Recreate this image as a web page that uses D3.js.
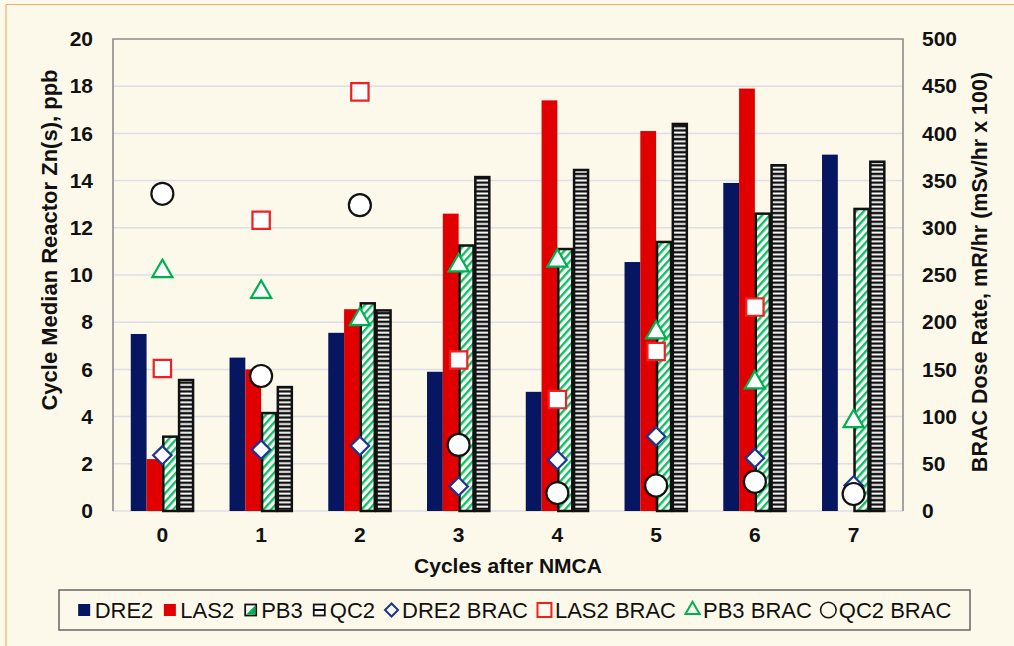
<!DOCTYPE html>
<html>
<head>
<meta charset="utf-8">
<script src="https://cdn.jsdelivr.net/npm/d3@7"></script>
<style>
  body { margin: 0; background: #fdf9ea; }
  svg { display: block; font-family: 'Liberation Sans', Arial, sans-serif; }
</style>
</head>
<body>
<div id="chart"></div>
<script>
// values
const cycles = ['0', '1', '2', '3', '4', '5', '6', '7'];
const barNames = ['DRE2', 'LAS2', 'PB3', 'QC2'];
const dre2 = [7.5, 6.5, 7.55, 5.9, 5.05, 10.55, 13.9, 15.1];
const las2 = [2.2, 6.0, 8.55, 12.6, 17.4, 16.1, 17.9, null];
const pb3 = [3.15, 4.15, 8.8, 11.25, 11.1, 11.4, 12.6, 12.8];
const qc2 = [5.55, 5.25, 8.5, 14.15, 14.45, 16.4, 14.65, 14.8];

const bracNames = ['DRE2 BRAC', 'LAS2 BRAC', 'PB3 BRAC', 'QC2 BRAC'];
const dre2Brac = [59, 65, 69, 26, 54, 79, 56, 27];
const las2Brac = [151, 308, 444, 160, 118, 169, 216, null];
const pb3Brac = [254, 232, 203, 260, 265, 189, 136, 95];
const qc2Brac = [336, 143, 324, 70, 19, 27, 31, 18];

const znTicks = [0, 2, 4, 6, 8, 10, 12, 14, 16, 18, 20];
const doseTicks = [0, 50, 100, 150, 200, 250, 300, 350, 400, 450, 500];

const yTitle = 'Cycle Median Reactor Zn(s), ppb';
const y2Title = 'BRAC Dose Rate, mR/hr (mSv/hr x 100)';
const xTitle = 'Cycles after NMCA';

const width = 1014, height = 646;
const margin = { top: 39, right: 111, bottom: 135, left: 113 };
const plotW = width - margin.left - margin.right;
const plotH = height - margin.top - margin.bottom;

const bg = '#fdf9ea';
const navy = '#071661';
const red = '#e00000';
const green = '#00b050';

const barSeries = [
  { name: 'DRE2', values: dre2, fill: navy, stroke: 'none' },
  { name: 'LAS2', values: las2, fill: red, stroke: 'none' },
  { name: 'PB3', values: pb3, fill: 'url(#pb3Hatch)', stroke: '#111' },
  { name: 'QC2', values: qc2, fill: 'url(#qc2Lines)', stroke: '#111' }
];
const bracSeries = [
  { name: 'DRE2 BRAC', values: dre2Brac, type: d3.symbolSquare, size: 170, rotate: 45, stroke: '#1c3591' },
  { name: 'LAS2 BRAC', values: las2Brac, type: d3.symbolSquare, size: 300, rotate: 0, stroke: '#ee2020' },
  { name: 'PB3 BRAC', values: pb3Brac, type: d3.symbolTriangle, size: 175, rotate: 0, stroke: green },
  { name: 'QC2 BRAC', values: qc2Brac, type: d3.symbolCircle, size: 380, rotate: 0, stroke: '#111' }
];

const svg = d3.select('#chart')
  .append('svg')
  .attr('width', width)
  .attr('height', height);

svg.append('rect').attr('width', width).attr('height', height).attr('fill', bg);
// thin orange frame (only left/top visible in the picture)
svg.append('line').attr('x1', 6).attr('x2', 6).attr('y1', 4.5).attr('y2', height)
  .attr('stroke', '#e8b268').attr('stroke-width', 1.2);
svg.append('line').attr('x1', 6).attr('x2', width).attr('y1', 4.5).attr('y2', 4.5)
  .attr('stroke', '#e8b268').attr('stroke-width', 1.2);

// patterns
const defs = svg.append('defs');
const hatch = defs.append('pattern')
  .attr('id', 'pb3Hatch')
  .attr('patternUnits', 'userSpaceOnUse')
  .attr('width', 5.6).attr('height', 5.6)
  .attr('patternTransform', 'rotate(42)');
hatch.append('rect').attr('width', 5.6).attr('height', 5.6).attr('fill', '#fff');
hatch.append('rect').attr('width', 2.4).attr('height', 5.6).attr('fill', '#10c060');

const lines = defs.append('pattern')
  .attr('id', 'qc2Lines')
  .attr('patternUnits', 'userSpaceOnUse')
  .attr('width', 20).attr('height', 4.35);
lines.append('rect').attr('width', 20).attr('height', 4.35).attr('fill', '#111');
lines.append('rect').attr('y', 1.3).attr('width', 20).attr('height', 1.9).attr('fill', '#fff');

const chart = svg.append('g')
  .attr('transform', `translate(${margin.left}, ${margin.top})`);

// scales
const x = d3.scaleBand().domain(cycles).range([0, plotW]).paddingInner(0.36).paddingOuter(0.18);
const xSub = d3.scaleBand().domain(barNames).range([0, x.bandwidth()]);
const y = d3.scaleLinear().domain([0, 20]).range([plotH, 0]);
const y2 = d3.scaleLinear().domain([0, 500]).range([plotH, 0]);

// gridlines
chart.append('g')
  .selectAll('line')
  .data(znTicks)
  .enter()
  .append('line')
  .attr('x1', 0).attr('x2', plotW)
  .attr('y1', d => y(d)).attr('y2', d => y(d))
  .attr('stroke', d => d === 20 ? 'none' : '#dcdde7')
  .attr('stroke-width', 1.5);

// plot frame: left, top, right
chart.append('path')
  .attr('d', `M0,${plotH}V0H${plotW}V${plotH}`)
  .attr('fill', 'none')
  .attr('stroke', '#8c8c8c')
  .attr('stroke-width', 1.6);

// bars
barSeries.forEach(s => {
  chart.append('g')
    .attr('class', 'bars')
    .selectAll('rect')
    .data(s.values.map((v, i) => ({ cycle: cycles[i], v })).filter(d => d.v !== null))
    .enter()
    .append('rect')
    .attr('x', d => x(d.cycle) + xSub(s.name) + (s.stroke === 'none' ? 0 : 0.9))
    .attr('y', d => y(d.v))
    .attr('width', xSub.bandwidth() - (s.stroke === 'none' ? 0 : 1.8))
    .attr('height', d => plotH - y(d.v))
    .attr('fill', s.fill)
    .attr('stroke', s.stroke)
    .attr('stroke-width', 2.5);
});

// BRAC markers on the right axis
bracSeries.forEach(s => {
  const sym = d3.symbol().type(s.type).size(s.size);
  chart.append('g')
    .attr('class', 'markers')
    .selectAll('path')
    .data(s.values.map((v, i) => ({ cycle: cycles[i], v })).filter(d => d.v !== null))
    .enter()
    .append('path')
    .attr('d', sym)
    .attr('transform', d => `translate(${x(d.cycle) + x.bandwidth() / 2}, ${y2(d.v)}) rotate(${s.rotate})`)
    .attr('fill', '#fff')
    .attr('stroke', s.stroke)
    .attr('stroke-width', 2.2);
});

// axes
const axisText = g => {
  g.select('.domain').remove();
  g.selectAll('text')
    .attr('fill', '#111')
    .attr('font-size', 21)
    .attr('font-weight', 'bold')
    .attr('font-family', "'Liberation Sans', Arial, sans-serif");
};

chart.append('g')
  .call(d3.axisLeft(y).tickValues(znTicks).tickSize(0).tickPadding(20))
  .call(axisText);

chart.append('g')
  .attr('transform', `translate(${plotW}, 0)`)
  .call(d3.axisRight(y2).tickValues(doseTicks).tickSize(0).tickPadding(19))
  .call(axisText);

chart.append('g')
  .attr('transform', `translate(0, ${plotH})`)
  .call(d3.axisBottom(x).tickSize(0).tickPadding(16))
  .call(axisText);

// titles
svg.append('text')
  .attr('transform', `translate(57, 240) rotate(-90)`)
  .attr('text-anchor', 'middle')
  .attr('font-size', 22)
  .attr('font-weight', 'bold')
  .attr('fill', '#111')
  .text(yTitle);

svg.append('text')
  .attr('transform', `translate(987, 272) rotate(-90)`)
  .attr('text-anchor', 'middle')
  .attr('font-size', 21.5)
  .attr('font-weight', 'bold')
  .attr('fill', '#111')
  .text(y2Title);

svg.append('text')
  .attr('x', margin.left + plotW / 2)
  .attr('y', 573)
  .attr('text-anchor', 'middle')
  .attr('font-size', 21)
  .attr('font-weight', 'bold')
  .attr('fill', '#111')
  .text(xTitle);

// legend
const legendBox = { x: 59, y: 590, w: 911, h: 40 };
svg.append('rect')
  .attr('x', legendBox.x).attr('y', legendBox.y)
  .attr('width', legendBox.w).attr('height', legendBox.h)
  .attr('fill', bg)
  .attr('stroke', '#666')
  .attr('stroke-width', 1.5);

const legend = svg.append('g');
const ly = legendBox.y + legendBox.h / 2;
const items = barSeries.map(s => ({ name: s.name, kind: 'bar', s }))
  .concat(bracSeries.map(s => ({ name: s.name, kind: 'brac', s })));

let cx = 0;
items.forEach(it => {
  const g = legend.append('g').attr('transform', `translate(${cx}, 0)`);
  const sw = 13;
  if (it.kind === 'bar') {
    if (it.name === 'QC2') {
      g.append('rect').attr('x', 1).attr('y', ly - 5.5).attr('width', 11).attr('height', 11)
        .attr('fill', '#fff').attr('stroke', '#111').attr('stroke-width', 1.8);
      g.append('line').attr('x1', 1).attr('x2', 12).attr('y1', ly).attr('y2', ly)
        .attr('stroke', '#111').attr('stroke-width', 2);
    } else if (it.name === 'PB3') {
      g.append('rect').attr('x', 1).attr('y', ly - 5.5).attr('width', 11).attr('height', 11)
        .attr('fill', '#fff').attr('stroke', '#111').attr('stroke-width', 1.8);
      g.append('path').attr('d', `M2,${ly + 4.5}L11,${ly - 4.5}V${ly + 4.5}Z`).attr('fill', green);
    } else {
      g.append('rect').attr('x', 0.5).attr('y', ly - 6).attr('width', 12).attr('height', 12)
        .attr('fill', it.s.fill);
    }
  } else {
    const scale = it.name === 'LAS2 BRAC' ? 0.65 : 0.5;
    g.append('path')
      .attr('d', d3.symbol().type(it.s.type).size(it.s.size * scale))
      .attr('transform', `translate(${sw / 2}, ${ly}) rotate(${it.s.rotate})`)
      .attr('fill', 'none')
      .attr('stroke', it.s.stroke)
      .attr('stroke-width', it.name === 'QC2 BRAC' ? 1.5 : 2);
  }
  const t = g.append('text')
    .attr('x', sw + 4)
    .attr('y', ly)
    .attr('dy', '0.36em')
    .attr('font-size', 22)
    .attr('fill', '#111')
    .text(it.name);
  cx += sw + 4 + t.node().getComputedTextLength() + 10;
});
cx -= 10;
legend.attr('transform', `translate(${legendBox.x + (legendBox.w - cx) / 2}, 0)`);
</script>
</body>
</html>
